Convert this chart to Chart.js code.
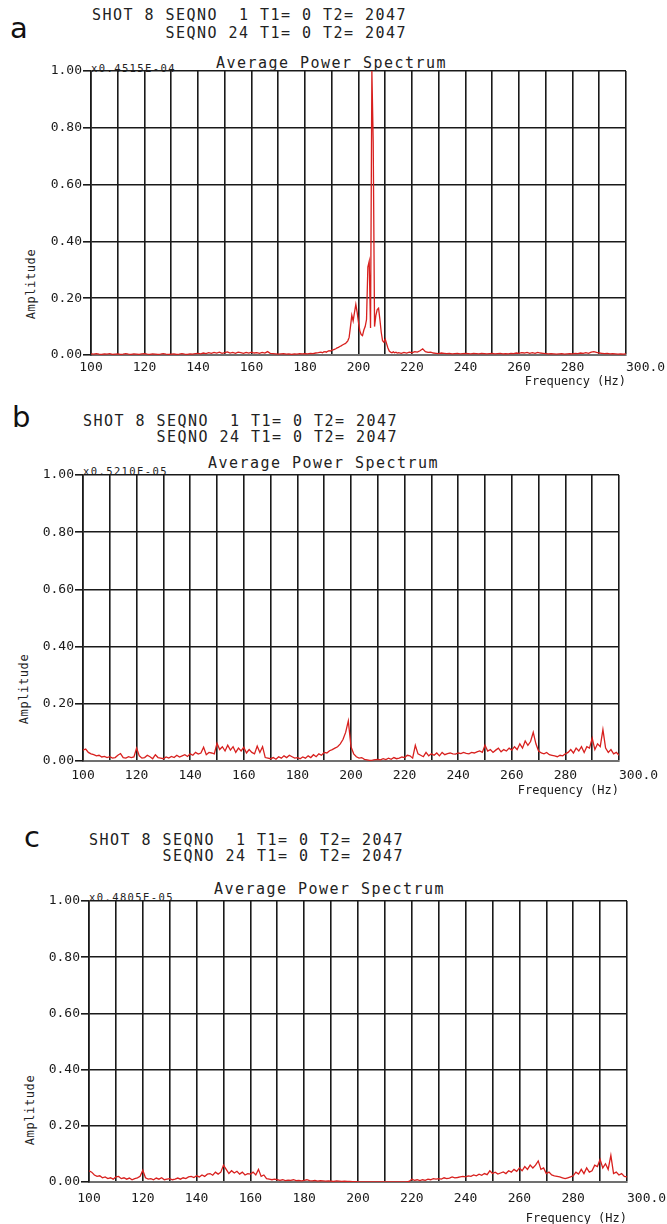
<!DOCTYPE html>
<html>
<head>
<meta charset="utf-8">
<script src="https://cdn.jsdelivr.net/npm/chart.js@4"></script>
<style>
  body { margin: 0; background: #fff; width: 667px; height: 1224px; overflow: hidden; position: relative;
         font-family: "DejaVu Sans Mono", monospace; color: #222; }
  .letter { position: absolute; font-family: "DejaVu Sans", sans-serif; font-size: 29px; line-height: 28px; color: #111; }
  .hdr { position: absolute; white-space: pre; font-size: 15px; line-height: 15px; letter-spacing: 1.47px; }
  .scl { position: absolute; white-space: pre; font-size: 10.5px; line-height: 10px; letter-spacing: 1.4px; }
  .amp { position: absolute; white-space: pre; font-size: 12px; line-height: 12px; letter-spacing: 0.6px;
         transform: translate(-50%, -50%) rotate(-90deg); }
  canvas { position: absolute; left: 0; }
</style>
</head>
<body>

<div class="letter" style="left:10px;top:14px">a</div>
<div class="hdr" style="left:92px;top:8px">SHOT 8 SEQNO  1 T1= 0 T2= 2047</div>
<div class="hdr" style="left:92px;top:26px">       SEQNO 24 T1= 0 T2= 2047</div>
<div class="hdr" style="left:216px;top:56px">Average Power Spectrum</div>
<div class="scl" style="left:91px;top:63px">x0.4515E-04</div>
<div class="amp" style="left:31px;top:284px">Amplitude</div>
<canvas id="chartA" width="667" height="340" style="top:60px"></canvas>

<div class="letter" style="left:12px;top:403px">b</div>
<div class="hdr" style="left:83px;top:414px">SHOT 8 SEQNO  1 T1= 0 T2= 2047</div>
<div class="hdr" style="left:83px;top:430px">       SEQNO 24 T1= 0 T2= 2047</div>
<div class="hdr" style="left:208px;top:456px">Average Power Spectrum</div>
<div class="scl" style="left:83px;top:466px">x0.5210E-05</div>
<div class="amp" style="left:24px;top:689px">Amplitude</div>
<canvas id="chartB" width="667" height="340" style="top:465px"></canvas>

<div class="letter" style="left:24px;top:823px">c</div>
<div class="hdr" style="left:89px;top:833px">SHOT 8 SEQNO  1 T1= 0 T2= 2047</div>
<div class="hdr" style="left:89px;top:849px">       SEQNO 24 T1= 0 T2= 2047</div>
<div class="hdr" style="left:214px;top:882px">Average Power Spectrum</div>
<div class="scl" style="left:89px;top:892px">x0.4805E-05</div>
<div class="amp" style="left:30px;top:1110px">Amplitude</div>
<canvas id="chartC" width="667" height="350" style="top:890px"></canvas>

<script>
// x tick labels, every 20 Hz
const freqTicks = [100, 120, 140, 160, 180, 200, 220, 240, 260, 280, 300];
const ampTicks = [0, 0.2, 0.4, 0.6, 0.8, 1.0];

// shot a: 1 Hz below 185, 0.5 Hz through the peak, 1 Hz above 215
const ampA_low = [
  .004,.003,.005,.003,.002,.004,.003,.005,.002,.003,
  .004,.002,.003,.005,.003,.002,.004,.003,.002,.004,
  .005,.003,.002,.004,.003,.002,.003,.005,.003,.002,
  .003,.004,.002,.003,.005,.003,.002,.004,.003,.005,
  .006,.004,.007,.005,.008,.006,.009,.007,.010,.006,
  .008,.011,.007,.009,.006,.010,.008,.006,.009,.007,
  .010,.007,.008,.006,.009,.007,.012,.006,.005,.004,
  .003,.004,.005,.003,.004,.002,.004,.003,.005,.004,
  .005,.004,.006,.005,.007,.008
];
const ampA_peak = [
  .009,.010,.008,.011,.012,.010,.013,.015,.014,.017,
  .018,.020,.022,.025,.027,.030,.032,.035,.038,.040,
  .044,.050,.062,.100,.140,.120,.150,.178,.150,.115,
  .085,.072,.068,.088,.100,.125,.310,.330,.095,1.00,
  .750,.100,.140,.160,.165,.125,.080,.050,.045,.056,
  .040,.025,.014,.010,.008,.011,.008,.010,.007
];
const ampA_high = [
  .008,.006,.009,.007,.010,.008,.012,.010,.015,.022,
  .012,.009,.010,.007,.006,.005,.007,.006,.005,.006,
  .004,.005,.006,.004,.005,.006,.005,.004,.006,.005,
  .004,.006,.005,.004,.005,.006,.004,.005,.006,.004,
  .005,.004,.006,.005,.007,.006,.008,.007,.009,.006,
  .008,.006,.009,.007,.006,.005,.004,.005,.004,.003,
  .004,.005,.003,.004,.005,.004,.006,.005,.007,.006,
  .008,.006,.010,.012,.009,.007,.006,.005,.006,.004,
  .005,.004,.003,.004,.003,.004
];

// shot b, 100..300 Hz at 1 Hz
const ampB = [
  .038,.042,.030,.025,.022,.018,.020,.014,.016,.012,
  .015,.010,.012,.020,.026,.012,.010,.015,.012,.014,
  .045,.018,.010,.012,.020,.015,.008,.022,.012,.010,
  .008,.014,.010,.016,.012,.020,.014,.018,.022,.016,
  .025,.020,.030,.024,.028,.048,.022,.030,.028,.025,
  .062,.040,.050,.035,.055,.038,.050,.030,.045,.035,
  .048,.028,.040,.030,.025,.052,.030,.050,.012,.010,
  .008,.012,.006,.015,.010,.018,.012,.020,.015,.010,
  .012,.008,.014,.010,.018,.012,.022,.015,.025,.020,
  .030,.028,.036,.040,.045,.050,.060,.075,.100,.140,
  .050,.025,.015,.010,.012,.006,.004,.002,.003,.005,
  .006,.004,.008,.005,.010,.006,.012,.008,.010,.014,
  .012,.020,.018,.010,.055,.025,.020,.015,.030,.018,
  .025,.020,.028,.018,.030,.022,.026,.028,.025,.024,
  .028,.026,.030,.027,.025,.030,.028,.032,.035,.030,
  .055,.035,.040,.030,.038,.045,.032,.040,.035,.045,
  .038,.050,.040,.060,.045,.070,.055,.068,.100,.060,
  .035,.028,.025,.030,.022,.020,.018,.015,.020,.018,
  .025,.030,.040,.028,.045,.035,.050,.030,.050,.045,
  .080,.040,.060,.050,.110,.045,.030,.040,.025,.030,
  .020
];

// shot c, 100..300 Hz at 1 Hz
const ampC = [
  .040,.035,.025,.020,.022,.015,.018,.012,.015,.010,
  .018,.020,.012,.015,.010,.014,.008,.012,.015,.020,
  .042,.015,.010,.012,.008,.014,.010,.015,.008,.010,
  .012,.008,.010,.014,.010,.015,.012,.018,.020,.016,
  .022,.018,.025,.020,.028,.030,.024,.035,.028,.035,
  .060,.045,.030,.040,.032,.038,.028,.035,.025,.030,
  .028,.035,.025,.045,.020,.025,.012,.010,.008,.010,
  .008,.006,.008,.005,.007,.006,.008,.005,.006,.004,
  .006,.008,.005,.004,.006,.003,.005,.004,.003,.004,
  .003,.002,.004,.003,.002,.003,.002,.002,.001,.001,
  0,0,0,0,0,0,0,0,0,0,
  0,0,0,0,0,0,0,0,0,.002,
  .010,.006,.008,.005,.008,.006,.010,.008,.012,.010,
  .012,.010,.015,.012,.014,.018,.015,.016,.018,.020,
  .018,.022,.020,.025,.022,.028,.024,.030,.026,.040,
  .030,.035,.028,.032,.036,.030,.040,.035,.045,.038,
  .050,.040,.055,.045,.060,.050,.060,.075,.045,.050,
  .030,.035,.025,.022,.020,.018,.015,.012,.015,.018,
  .022,.035,.028,.045,.030,.050,.035,.040,.060,.055,
  .080,.050,.065,.045,.095,.030,.035,.025,.030,.020,
  .018
];

function range(start, stop, step) {
  const out = [];
  for (let v = start; v <= stop + 1e-9; v += step) out.push(Math.round(v * 10) / 10);
  return out;
}

const freqA = range(100, 185, 1).concat(range(185.5, 214.5, 0.5), range(215, 300, 1));
const ampA = ampA_low.concat(ampA_peak, ampA_high);
const freqBC = range(100, 300, 1);

const tickFont = { family: 'DejaVu Sans Mono', size: 13 };
const ink = '#1a1a1a';
const axisGray = '#707070';

// plot box given in page pixels; the canvas sits at canvasTop
function drawSpectrum(id, freqs, amps, canvasTop, canvasH, box, labelGap, titleGap) {
  const pts = freqs.map((f, i) => ({ x: f, y: amps[i] }));
  return new Chart(document.getElementById(id), {
    type: 'line',
    data: {
      datasets: [{
        data: pts,
        borderColor: '#d8201e',
        borderWidth: 1.3,
        pointRadius: 0,
        tension: 0
      }]
    },
    options: {
      responsive: false,
      animation: false,
      layout: {
        padding: { top: box.top - canvasTop, right: 667 - box.right, left: 0, bottom: 0 }
      },
      plugins: { legend: { display: false }, tooltip: { enabled: false } },
      scales: {
        x: {
          type: 'linear',
          min: 100,
          max: 300,
          afterFit: s => { s.height = canvasTop + canvasH - box.bottom; s.paddingLeft = 0; s.paddingRight = 0; },
          // grid every 10 Hz, labels every 20 Hz
          afterBuildTicks: s => { s.ticks = range(100, 300, 10).map(v => ({ value: v })); },
          ticks: {
            autoSkip: false,
            maxRotation: 0,
            padding: labelGap,
            color: ink,
            font: tickFont,
            callback: v => {
              if (!freqTicks.includes(v)) return '';
              return v === 300 ? '     300.0' : String(v);
            }
          },
          grid: { color: ink, lineWidth: 1.6, drawTicks: false },
          border: { color: axisGray, width: 2 },
          title: {
            display: true,
            text: 'Frequency (Hz)',
            align: 'end',
            color: ink,
            font: { family: 'DejaVu Sans Mono', size: 12 },
            padding: { top: 0, bottom: titleGap }
          }
        },
        y: {
          min: 0,
          max: 1,
          afterFit: s => { s.width = box.left; s.paddingTop = 0; s.paddingBottom = 0; },
          afterBuildTicks: s => { s.ticks = ampTicks.map(v => ({ value: v })); },
          ticks: {
            padding: 1,
            color: ink,
            font: tickFont,
            callback: v => v.toFixed(2)
          },
          grid: {
            color: c => (c.tick && c.tick.value === 0 ? axisGray : ink),
            tickColor: ink,
            lineWidth: 1.6,
            tickLength: 8
          },
          border: { color: ink, width: 1.6 }
        }
      }
    }
  });
}

drawSpectrum('chartA', freqA, ampA, 60, 340, { left: 91, right: 626, top: 71, bottom: 355 }, 5, 11);
drawSpectrum('chartB', freqBC, ampB, 465, 340, { left: 83, right: 619, top: 475, bottom: 761 }, 7, 7);
drawSpectrum('chartC', freqBC, ampC, 890, 350, { left: 89, right: 627, top: 901, bottom: 1182 }, 9, 14);
</script>
</body>
</html>
